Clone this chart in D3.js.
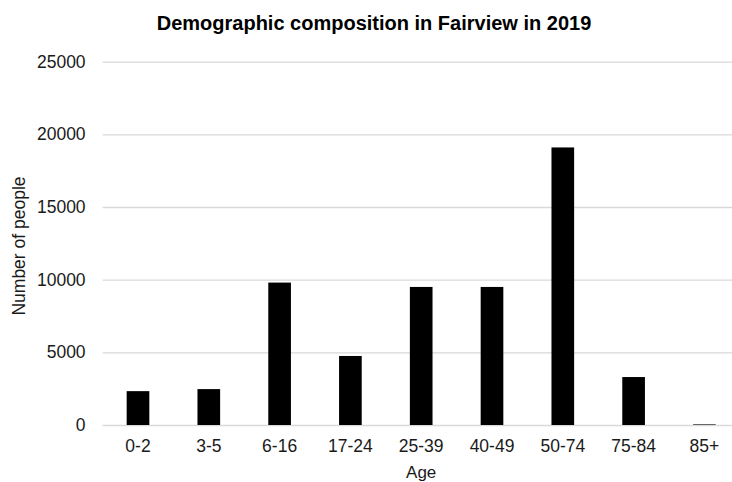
<!DOCTYPE html>
<html>
<head>
<meta charset="utf-8">
<script src="https://cdn.jsdelivr.net/npm/d3@7"></script>
<style>
  html, body { margin: 0; padding: 0; background: #fff; }
  svg { display: block; }
  text { font-family: "Liberation Sans", Arial, sans-serif; }
</style>
</head>
<body>
<svg id="chart" width="732" height="482"></svg>
<script>
const categories = ["0-2", "3-5", "6-16", "17-24", "25-39", "40-49", "50-74", "75-84", "85+"];
const values = [2330, 2470, 9800, 4750, 9500, 9500, 19100, 3300, 40];
const yTicks = [0, 5000, 10000, 15000, 20000, 25000];
const title = "Demographic composition in Fairview in 2019";
const xTitle = "Age";
const yTitle = "Number of people";

(function () {
const svg = d3.select("#chart");
const W = 732, H = 482;
const mLeft = 102.6, mRight = 739.8, mTop = 61.7, mBottom = 425;

svg.append("rect").attr("width", W).attr("height", H).attr("fill", "#fff");

const x = d3.scaleBand().domain(categories).range([mLeft, mRight])
  .paddingInner(0.68).paddingOuter(0.34);
const y = d3.scaleLinear().domain([0, 25000]).range([mBottom, mTop]);

// gridlines via axis
const grid = svg.append("g").attr("transform", `translate(${mLeft},0)`)
  .call(d3.axisRight(y).tickValues(yTicks).tickSize(mRight - mLeft).tickFormat(""));
grid.select(".domain").remove();
grid.selectAll("line").attr("stroke", "#d9d9d9").attr("stroke-width", 1.3);

// y tick labels
const yAxis = svg.append("g").attr("transform", `translate(${mLeft},0)`)
  .call(d3.axisLeft(y).tickValues(yTicks).tickSize(0).tickPadding(17).tickFormat(d3.format("d")));
yAxis.select(".domain").remove();
yAxis.selectAll("text").attr("font-size", 17.5).attr("fill", "#1a1a1a")
  .attr("font-family", "Liberation Sans, Arial, sans-serif");

// bars
svg.append("g").selectAll("rect").data(values).join("rect")
  .attr("x", (d, i) => x(categories[i]))
  .attr("width", x.bandwidth())
  .attr("y", d => y(d))
  .attr("height", d => y(0) - y(d))
  .attr("fill", "#000");

// x tick labels
const xAxis = svg.append("g").attr("transform", `translate(0,${mBottom})`)
  .call(d3.axisBottom(x).tickSize(0).tickPadding(15));
xAxis.select(".domain").remove();
xAxis.selectAll("text").attr("font-size", 17.5).attr("fill", "#1a1a1a")
  .attr("font-family", "Liberation Sans, Arial, sans-serif");

// titles
svg.append("text").attr("x", 374).attr("y", 29.5).attr("text-anchor", "middle")
  .attr("font-size", 20).attr("font-weight", "bold").attr("fill", "#000").text(title);
svg.append("text").attr("x", (mLeft + mRight) / 2).attr("y", 478).attr("text-anchor", "middle")
  .attr("font-size", 17).attr("fill", "#1a1a1a").text(xTitle);
svg.append("text").attr("transform", "translate(25,246) rotate(-90)").attr("text-anchor", "middle")
  .attr("font-size", 17.5).attr("fill", "#1a1a1a").text(yTitle);
})();
</script>
</body>
</html>
